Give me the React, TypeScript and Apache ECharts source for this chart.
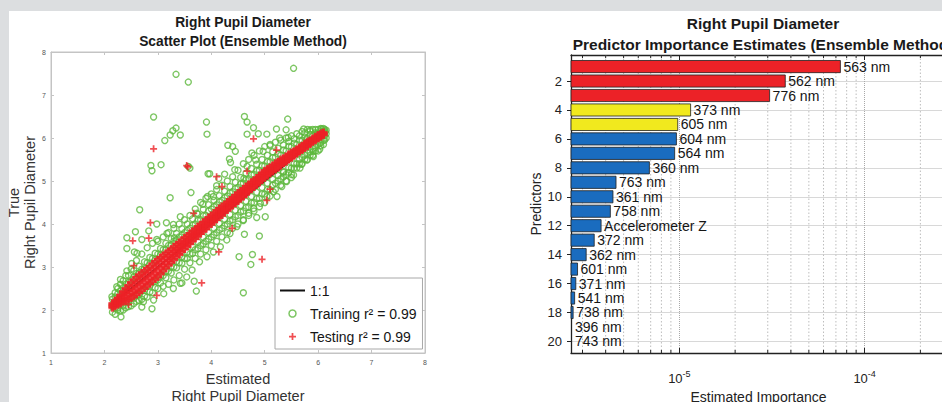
import React, { useEffect, useRef } from 'react';
import * as echarts from 'echarts';

const FONT = '"Liberation Sans", Arial, Helvetica, sans-serif';

// ---------- Left chart: scatter ----------
const scatterTitle = 'Right Pupil Diameter\nScatter Plot (Ensemble Method)';
const scatterXName = 'Estimated\nRight Pupil Diameter';
const scatterYName = 'True\nRight Pupil Diameter';
const legendNames = ['1:1', 'Training', 'Testing'];
const legendLabels = ['1:1', 'Training r² = 0.99', 'Testing r² = 0.99'];

const oneToOne = [
  [2.2, 2.2],
  [6.05, 6.05],
];

// Training cloud rows: [estimated, true values...]
const trainingBand = [
  [2.15, 1.95, 2.1, 2.25],
  [2.2, 1.9, 2.05, 2.3, 2.4],
  [2.25, 2.0, 2.05, 2.38, 2.5],
  [2.3, 1.98, 2.15, 2.45, 2.6],
  [2.35, 2.0, 2.1, 2.52, 2.68],
  [2.4, 2.05, 2.2, 2.6, 2.8],
  [2.45, 2.08, 2.18, 2.64, 2.8],
  [2.5, 2.1, 2.3, 2.7, 2.95],
  [2.55, 2.15, 2.28, 2.76, 2.92],
  [2.6, 2.2, 2.35, 2.85, 3.15],
  [2.65, 2.22, 2.36, 2.86, 3.02],
  [2.7, 2.25, 2.45, 2.95, 3.3],
  [2.75, 2.32, 2.46, 2.96, 3.12],
  [2.8, 2.3, 2.55, 3.1, 3.45],
  [2.85, 2.42, 2.56, 3.06, 3.22],
  [2.9, 2.4, 2.65, 3.2, 3.55],
  [2.95, 2.52, 2.67, 3.17, 3.32],
  [3.0, 2.5, 2.7, 3.3, 3.6],
  [3.05, 2.63, 2.78, 3.28, 3.43],
  [3.1, 2.55, 2.8, 3.4, 3.7],
  [3.15, 2.75, 2.9, 3.4, 3.55],
  [3.2, 2.6, 2.9, 3.5, 3.8],
  [3.25, 2.86, 3.01, 3.51, 3.66],
  [3.3, 2.7, 3.0, 3.6, 3.9],
  [3.35, 2.98, 3.13, 3.63, 3.78],
  [3.4, 2.8, 3.1, 3.7, 4.0],
  [3.45, 3.09, 3.24, 3.74, 3.89],
  [3.5, 2.95, 3.2, 3.8, 4.1],
  [3.55, 3.2, 3.35, 3.85, 4.0],
  [3.6, 3.1, 3.3, 3.9, 4.2],
  [3.65, 3.32, 3.47, 3.97, 4.12],
  [3.7, 3.2, 3.4, 4.0, 4.35],
  [3.75, 3.43, 3.58, 4.08, 4.23],
  [3.8, 3.3, 3.5, 4.1, 4.5],
  [3.85, 3.54, 3.69, 4.19, 4.34],
  [3.9, 3.4, 3.6, 4.2, 4.6],
  [3.95, 3.65, 3.8, 4.3, 4.45],
  [4.0, 3.5, 3.7, 4.35, 4.7],
  [4.05, 3.75, 3.9, 4.4, 4.55],
  [4.1, 3.6, 3.8, 4.45, 4.8],
  [4.15, 3.86, 4.01, 4.51, 4.66],
  [4.2, 3.7, 3.9, 4.55, 4.9],
  [4.25, 3.96, 4.11, 4.61, 4.76],
  [4.3, 3.8, 4.0, 4.65, 5.0],
  [4.35, 4.07, 4.22, 4.72, 4.87],
  [4.4, 3.9, 4.1, 4.75, 5.1],
  [4.45, 4.17, 4.32, 4.82, 4.97],
  [4.5, 4.0, 4.2, 4.85, 5.25],
  [4.55, 4.28, 4.43, 4.93, 5.08],
  [4.6, 4.1, 4.3, 4.95, 5.4],
  [4.65, 4.38, 4.53, 5.03, 5.18],
  [4.7, 4.2, 4.4, 5.05, 5.5],
  [4.75, 4.49, 4.64, 5.14, 5.29],
  [4.8, 4.3, 4.5, 5.15, 5.6],
  [4.85, 4.59, 4.74, 5.24, 5.39],
  [4.9, 4.4, 4.6, 5.25, 5.7],
  [4.95, 4.7, 4.85, 5.35, 5.5],
  [5.0, 4.5, 4.7, 5.35, 5.8],
  [5.05, 4.8, 4.95, 5.45, 5.6],
  [5.1, 4.65, 4.8, 5.45, 5.85],
  [5.15, 4.9, 5.04, 5.54, 5.68],
  [5.2, 4.8, 4.95, 5.55, 5.9],
  [5.25, 5.0, 5.13, 5.63, 5.76],
  [5.3, 4.9, 5.05, 5.6, 5.95],
  [5.35, 5.1, 5.22, 5.72, 5.84],
  [5.4, 5.0, 5.15, 5.7, 6.0],
  [5.45, 5.2, 5.31, 5.81, 5.92],
  [5.5, 5.15, 5.3, 5.8, 6.05],
  [5.55, 5.3, 5.4, 5.88, 5.98],
  [5.6, 5.3, 5.4, 5.85, 6.1],
  [5.65, 5.4, 5.5, 5.95, 6.05],
  [5.7, 5.4, 5.55, 5.95, 6.15],
  [5.75, 5.5, 5.6, 6.02, 6.12],
  [5.8, 5.5, 5.65, 6.0, 6.2],
  [5.85, 5.6, 5.68, 6.08, 6.16],
  [5.9, 5.6, 5.75, 6.05, 6.2],
  [5.95, 5.7, 5.78, 6.12, 6.2],
  [6.0, 5.7, 5.85, 6.1, 6.2],
  [6.05, 5.82, 5.9, 6.16, 6.22],
  [6.1, 5.85, 5.95, 6.15, 6.22],
  [6.12, 5.95, 6.05, 6.2],
  [6.15, 6.0, 6.1, 6.18],
];

const trainingOutliers = [
  [3.34, 7.48], [3.57, 7.3], [5.54, 7.62], [2.92, 6.49], [4.62, 6.5], [4.67, 6.37],
  [5.43, 6.44], [3.91, 6.37], [3.92, 6.09], [3.34, 6.23], [3.28, 6.17], [3.42, 6.07],
  [3.23, 6.07], [3.13, 5.94], [4.67, 6.09], [4.79, 6.24], [4.88, 6.1], [5.04, 6.09],
  [5.22, 6.21], [2.87, 5.36], [2.89, 5.24], [3.06, 5.38], [3.57, 5.34], [3.6, 5.3],
  [3.94, 5.17], [3.97, 5.17], [4.31, 5.83], [4.4, 5.8], [4.45, 5.69], [4.34, 5.51],
  [4.36, 5.43], [4.25, 5.16], [3.62, 4.73], [3.23, 4.61], [2.66, 4.33], [2.58, 3.82],
  [2.42, 3.68], [2.42, 3.43], [2.56, 3.35], [4.62, 3.76], [4.52, 3.24], [4.74, 3.06],
  [4.77, 3.29], [4.9, 3.72], [4.6, 2.4], [3.93, 4.64], [5.01, 4.17], [4.85, 4.15],
  [2.31, 1.84], [2.89, 2.03], [3.72, 2.44], [3.68, 2.67], [3.42, 2.62], [5.91, 5.57],
  [5.69, 5.39], [5.5, 5.08], [5.35, 5.2], [5.78, 5.96], [6.03, 5.74], [6.06, 6.21],
  [5.73, 6.21], [5.85, 6.19], [5.4, 6.19], [5.44, 6.01], [5.28, 6.0], [5.1, 5.82],
  [4.97, 5.69], [4.76, 5.65], [4.83, 5.49], [4.67, 5.34], [4.44, 5.26], [4.61, 5.06],
  [4.14, 5.06], [4.1, 4.89], [4.04, 4.64], [3.84, 4.46], [3.73, 4.25], [3.42, 4.17],
  [3.29, 3.99], [3.16, 4.03], [2.98, 4.0], [2.83, 3.84], [2.7, 3.64], [2.98, 3.64],
  [3.17, 3.78], [3.31, 3.68], [2.61, 3.32], [2.51, 3.08], [2.42, 2.91], [2.3, 2.71],
  [2.23, 2.54], [2.14, 2.31], [2.17, 2.11], [2.33, 2.19], [2.61, 2.34], [2.73, 2.19],
  [2.7, 2.07], [2.92, 2.23], [3.11, 2.38], [3.29, 2.5], [3.45, 2.63], [3.54, 2.77],
  [3.64, 2.93], [3.78, 3.12], [3.92, 3.24], [4.04, 3.35], [4.17, 3.47], [4.29, 3.63],
  [4.35, 3.78], [4.48, 3.94], [4.6, 4.08], [4.7, 4.25], [4.79, 4.36], [4.92, 4.48],
  [5.04, 4.64], [5.16, 4.75], [5.23, 4.64], [5.32, 4.87], [5.41, 4.99], [5.54, 5.14],
  [5.66, 5.3], [5.79, 5.49], [5.91, 5.69], [6.04, 5.88], [6.07, 6.07], [6.13, 6.15],
  [5.98, 6.11],
];

// Testing band rows: [estimated, true values across the band]
const testingBand = [
  [2.15, 2.05, 2.08, 2.12, 2.15], [2.2, 2.09, 2.13, 2.17, 2.21], [2.25, 2.12, 2.17, 2.23, 2.28],
  [2.3, 2.15, 2.22, 2.28, 2.35], [2.35, 2.19, 2.27, 2.35, 2.43], [2.4, 2.22, 2.31, 2.41, 2.5],
  [2.45, 2.25, 2.36, 2.46, 2.57], [2.5, 2.28, 2.4, 2.52, 2.64], [2.55, 2.32, 2.45, 2.57, 2.7],
  [2.6, 2.36, 2.49, 2.63, 2.76], [2.65, 2.41, 2.54, 2.68, 2.81], [2.7, 2.46, 2.59, 2.73, 2.86],
  [2.75, 2.51, 2.64, 2.78, 2.91], [2.8, 2.56, 2.69, 2.83, 2.96], [2.85, 2.61, 2.74, 2.88, 3.01],
  [2.9, 2.67, 2.8, 2.94, 3.07], [2.95, 2.72, 2.85, 2.99, 3.12], [3.0, 2.77, 2.9, 3.04, 3.17],
  [3.05, 2.84, 2.97, 3.09, 3.22], [3.1, 2.91, 3.03, 3.15, 3.27], [3.15, 2.98, 3.09, 3.21, 3.32],
  [3.2, 3.04, 3.15, 3.25, 3.36], [3.25, 3.11, 3.21, 3.31, 3.41], [3.3, 3.17, 3.27, 3.37, 3.47],
  [3.35, 3.24, 3.33, 3.43, 3.52], [3.4, 3.29, 3.38, 3.48, 3.57], [3.45, 3.36, 3.45, 3.53, 3.62],
  [3.5, 3.42, 3.51, 3.59, 3.68], [3.55, 3.48, 3.56, 3.64, 3.72], [3.6, 3.54, 3.62, 3.7, 3.78],
  [3.65, 3.61, 3.68, 3.76, 3.83], [3.7, 3.66, 3.73, 3.81, 3.88], [3.75, 3.72, 3.79, 3.87, 3.94],
  [3.8, 3.78, 3.85, 3.91, 3.98], [3.85, 3.84, 3.91, 3.97, 4.04], [3.9, 3.89, 3.96, 4.02, 4.09],
  [3.95, 3.95, 4.02, 4.08, 4.15], [4.0, 4.0, 4.07, 4.13, 4.2], [4.05, 4.05, 4.12, 4.18, 4.25],
  [4.1, 4.11, 4.18, 4.24, 4.31], [4.15, 4.16, 4.23, 4.29, 4.36], [4.2, 4.21, 4.28, 4.34, 4.41],
  [4.25, 4.27, 4.33, 4.39, 4.45], [4.3, 4.33, 4.39, 4.45, 4.51], [4.35, 4.38, 4.44, 4.5, 4.56],
  [4.4, 4.43, 4.49, 4.55, 4.61], [4.45, 4.48, 4.54, 4.6, 4.66], [4.5, 4.54, 4.6, 4.66, 4.72],
  [4.55, 4.59, 4.65, 4.71, 4.77], [4.6, 4.64, 4.7, 4.76, 4.82], [4.65, 4.69, 4.75, 4.81, 4.87],
  [4.7, 4.76, 4.81, 4.87, 4.92], [4.75, 4.81, 4.86, 4.92, 4.97], [4.8, 4.86, 4.91, 4.97, 5.02],
  [4.85, 4.91, 4.96, 5.02, 5.07], [4.9, 4.97, 5.02, 5.08, 5.13], [4.95, 5.02, 5.07, 5.13, 5.18],
  [5.0, 5.08, 5.13, 5.19, 5.24], [5.05, 5.12, 5.17, 5.23, 5.28], [5.1, 5.18, 5.23, 5.27, 5.32],
  [5.15, 5.22, 5.27, 5.31, 5.36], [5.2, 5.27, 5.32, 5.36, 5.41], [5.25, 5.31, 5.36, 5.4, 5.45],
  [5.3, 5.36, 5.41, 5.45, 5.5], [5.35, 5.41, 5.45, 5.49, 5.53], [5.4, 5.45, 5.49, 5.53, 5.57],
  [5.45, 5.5, 5.54, 5.58, 5.62], [5.5, 5.54, 5.58, 5.62, 5.66], [5.55, 5.59, 5.62, 5.66, 5.69],
  [5.6, 5.64, 5.67, 5.71, 5.74], [5.65, 5.68, 5.71, 5.75, 5.78], [5.7, 5.72, 5.75, 5.79, 5.82],
  [5.75, 5.77, 5.8, 5.84, 5.87], [5.8, 5.81, 5.84, 5.88, 5.91], [5.85, 5.86, 5.89, 5.91, 5.94],
  [5.9, 5.91, 5.94, 5.96, 5.99], [5.95, 5.95, 5.98, 6.0, 6.03], [6.0, 5.99, 6.02, 6.04, 6.07],
  [6.05, 6.03, 6.06, 6.08, 6.11], [6.1, 6.07, 6.09, 6.11, 6.13],
];

const testingOutliers = [
  [2.92, 5.75], [3.54, 5.36], [3.56, 5.33], [4.79, 5.98], [2.86, 4.03], [2.83, 3.67],
  [2.53, 3.61], [2.55, 3.03], [4.14, 3.35], [4.95, 3.18], [3.82, 2.63], [2.45, 2.13],
  [2.98, 2.34], [4.1, 5.1], [4.2, 4.87], [4.39, 3.9], [3.67, 4.25], [5.1, 4.81],
  [5.04, 4.55], [5.22, 5.72], [4.67, 5.23],
];

// ---------- Right chart: predictor importance ----------
const barTitle = 'Right Pupil Diameter\nPredictor Importance Estimates (Ensemble Method)';
const barXName = 'Estimated Importance';
const barYName = 'Predictors';
const predictorLabels = [
  '563 nm', '562 nm', '776 nm', '373 nm', '605 nm', '604 nm', '564 nm', '360 nm',
  '763 nm', '361 nm', '758 nm', 'Accelerometer Z', '372 nm', '362 nm', '601 nm',
  '371 nm', '541 nm', '738 nm', '396 nm', '743 nm',
];
const importance = [
  7.4e-5, 3.73e-5, 3.07e-5, 1.15e-5, 9.8e-6, 9.64e-6, 9.43e-6, 6.89e-6, 4.55e-6,
  4.38e-6, 4.24e-6, 3.78e-6, 3.47e-6, 3.14e-6, 2.82e-6, 2.76e-6, 2.72e-6, 2.67e-6,
  2.55e-6, 2.55e-6,
];
const importanceGroup = [
  'high', 'high', 'high', 'mid', 'mid', 'low', 'low', 'low', 'low', 'low',
  'low', 'low', 'low', 'low', 'low', 'low', 'low', 'low', 'low', 'low',
];
const minorGridValues = [
  3e-6, 4e-6, 5e-6, 6e-6, 7e-6, 8e-6, 9e-6,
  2e-5, 3e-5, 4e-5, 5e-5, 6e-5, 7e-5, 8e-5, 9e-5, 2e-4,
];

const X_MIN = 2.6e-6;
const X_MAX = 2.75e-4;
const Y_MIN = 0.2;
const Y_MAX = 20.8;
const BAR_HALF = 0.42;
const GROUP_COLORS: Record<string, string> = { high: '#ec2227', mid: '#f1e91e', low: '#1a6cbf' };
const GREEN = '#5cb83c';
const RED = '#ec2227';
const PLUS = 'path://M3.75 0h2.5v3.75H10v2.5H6.25V10h-2.5V6.25H0v-2.5h3.75z';
const PLUS_BOLD = 'path://M3.1 0h3.8v3.1H10v3.8H6.9V10H3.1V6.9H0V3.1h3.1z';

function flattenRows(rows: number[][]): number[][] {
  const out: number[][] = [];
  rows.forEach((r) => {
    for (let k = 1; k < r.length; k++) out.push([r[0], r[k]]);
  });
  return out;
}

export default function App() {
  const ref = useRef<HTMLDivElement>(null);

  useEffect(() => {
    if (!ref.current) return;
    const chart = echarts.init(ref.current, undefined, { renderer: 'svg' });

    const trainingData = flattenRows(trainingBand).concat(trainingOutliers);
    const testingData: any[] = flattenRows(testingBand)
      .map((p) => ({ value: p, symbol: PLUS_BOLD, symbolSize: 8 }))
      .concat(testingOutliers.map((p) => ({ value: p })) as any[]);

    const leftAxisCommon = {
      min: 1,
      max: 8,
      interval: 1,
      axisLine: { show: true, lineStyle: { color: '#c4c4c4', width: 1 } },
      axisTick: { show: true, inside: true, length: 3, lineStyle: { color: '#c4c4c4' } },
      splitLine: { show: false },
    };

    const logFormatter = (v: number) => {
      const l = Math.log10(v);
      const e = Math.round(l);
      if (Math.abs(l - e) > 0.01) return '';
      return '{b|10}{s|' + e + '}';
    };

    const option: any = {
      animation: false,
      backgroundColor: '#dcdee0',
      graphic: [
        {
          type: 'rect',
          z: -10,
          shape: { x: 9, y: 11, width: 940, height: 400 },
          style: { fill: '#ffffff' },
          silent: true,
        },
      ],
      title: [
        {
          text: scatterTitle,
          left: 238,
          top: 8,
          textAlign: 'center',
          textStyle: { fontFamily: FONT, fontSize: 13.8, fontWeight: 'bold', lineHeight: 19, color: '#1a1a1a' },
        },
        {
          text: barTitle,
          left: 758,
          top: 8,
          textAlign: 'center',
          textStyle: { fontFamily: FONT, fontSize: 15.5, fontWeight: 'bold', lineHeight: 21, color: '#1a1a1a' },
        },
      ],
      legend: {
        data: [
          {
            name: legendNames[0],
            itemStyle: { color: 'rgba(0,0,0,0)', borderColor: 'rgba(0,0,0,0)', borderWidth: 0 },
            lineStyle: { color: '#111', width: 2 },
          },
          {
            name: legendNames[1],
            icon: 'circle',
            itemStyle: { color: 'rgba(0,0,0,0)', borderColor: GREEN, borderWidth: 1.5 },
          },
          { name: legendNames[2], icon: PLUS, itemStyle: { color: RED } },
        ],
        formatter: (name: string) => legendLabels[legendNames.indexOf(name)],
        orient: 'vertical',
        left: 275,
        top: 278,
        itemWidth: 25,
        itemHeight: 7,
        itemGap: 8,
        padding: [5, 6, 5, 4],
        backgroundColor: '#ffffff',
        borderColor: '#a8a8a8',
        borderWidth: 1,
        borderRadius: 0,
        selectedMode: false,
        textStyle: { fontFamily: FONT, fontSize: 14, color: '#151515', lineHeight: 15 },
      },
      grid: [
        {
          left: 51, top: 52, width: 374, height: 301, show: true,
          borderColor: '#c4c4c4', borderWidth: 1, backgroundColor: '#fff',
          outerBoundsMode: 'none', containLabel: false,
        },
        {
          left: 571, top: 55, width: 375, height: 298, show: false,
          outerBoundsMode: 'none', containLabel: false,
        },
      ],
      xAxis: [
        {
          ...leftAxisCommon,
          type: 'value',
          gridIndex: 0,
          position: 'bottom',
          name: scatterXName,
          nameLocation: 'middle',
          nameGap: 17,
          nameTextStyle: { fontFamily: FONT, fontSize: 14.5, lineHeight: 17, color: '#333' },
          axisLabel: { fontFamily: FONT, fontSize: 7, color: '#555', margin: 6 },
        },
        {
          ...leftAxisCommon,
          type: 'value',
          gridIndex: 0,
          position: 'top',
          axisLabel: { show: false },
        },
        {
          type: 'log',
          gridIndex: 1,
          position: 'bottom',
          min: X_MIN,
          max: X_MAX,
          logBase: 10,
          name: barXName,
          nameLocation: 'middle',
          nameGap: 36,
          nameTextStyle: { fontFamily: FONT, fontSize: 14, lineHeight: 16, color: '#222' },
          axisLine: { show: true, lineStyle: { color: '#222', width: 1.3 } },
          axisTick: { show: true, inside: true, length: 5, lineStyle: { color: '#222' } },
          axisLabel: {
            formatter: logFormatter,
            showMinLabel: false,
            showMaxLabel: false,
            margin: 16,
            color: '#222',
            rich: {
              b: { fontFamily: FONT, fontSize: 13, lineHeight: 18, color: '#222' },
              s: { fontFamily: FONT, fontSize: 9, lineHeight: 9, verticalAlign: 'top', color: '#222' },
            },
          },
          splitLine: { show: true, lineStyle: { color: '#a8a8a8', type: 'dotted', width: 1 } },
        },
        {
          type: 'log',
          gridIndex: 1,
          position: 'top',
          min: X_MIN,
          max: X_MAX,
          logBase: 10,
          axisLine: { show: true, lineStyle: { color: '#222', width: 1.3 } },
          axisTick: { show: true, inside: true, length: 5, lineStyle: { color: '#222' } },
          axisLabel: { show: false },
          splitLine: { show: false },
        },
      ],
      yAxis: [
        {
          ...leftAxisCommon,
          type: 'value',
          gridIndex: 0,
          position: 'left',
          name: scatterYName,
          nameLocation: 'middle',
          nameGap: 12,
          nameRotate: 90,
          nameTextStyle: { fontFamily: FONT, fontSize: 14.5, lineHeight: 16, color: '#333' },
          axisLabel: { fontFamily: FONT, fontSize: 7, color: '#555', margin: 5 },
        },
        {
          ...leftAxisCommon,
          type: 'value',
          gridIndex: 0,
          position: 'right',
          axisLabel: { show: false },
        },
        {
          type: 'value',
          gridIndex: 1,
          position: 'left',
          inverse: true,
          min: Y_MIN,
          max: Y_MAX,
          splitNumber: 10,
          name: barYName,
          nameLocation: 'middle',
          nameGap: 26,
          nameRotate: 90,
          nameTextStyle: { fontFamily: FONT, fontSize: 14, lineHeight: 16, color: '#222' },
          axisLine: { show: true, lineStyle: { color: '#222', width: 1.3 } },
          axisTick: { show: true, inside: false, length: 4, lineStyle: { color: '#222' } },
          axisLabel: {
            fontFamily: FONT,
            fontSize: 13,
            color: '#222',
            margin: 9,
            showMinLabel: false,
            showMaxLabel: false,
            formatter: (v: number) => (Number.isInteger(v) ? String(v) : ''),
          },
          splitLine: { show: true, lineStyle: { color: '#d8d8d8', width: 1 } },
        },
      ],
      series: [
        {
          name: legendNames[0],
          type: 'line',
          xAxisIndex: 0,
          yAxisIndex: 0,
          data: oneToOne,
          symbol: 'none',
          lineStyle: { color: '#111', width: 2 },
          itemStyle: { color: '#111' },
          z: 1,
        },
        {
          name: legendNames[1],
          type: 'scatter',
          xAxisIndex: 0,
          yAxisIndex: 0,
          data: trainingData,
          symbol: 'circle',
          symbolSize: 6,
          itemStyle: { color: 'rgba(0,0,0,0)', borderColor: GREEN, borderWidth: 1.4 },
          z: 2,
        },
        {
          name: legendNames[2],
          type: 'scatter',
          xAxisIndex: 0,
          yAxisIndex: 0,
          data: testingData,
          symbol: PLUS,
          symbolSize: 7,
          itemStyle: { color: RED },
          z: 3,
        },
        {
          type: 'custom',
          xAxisIndex: 2,
          yAxisIndex: 2,
          z: 1,
          silent: true,
          clip: false,
          data: minorGridValues.map((v) => [v, 10]),
          encode: { x: 0, y: 1 },
          renderItem: (params: any, api: any) => {
            const v = api.value(0);
            const a = api.coord([v, Y_MIN]);
            const b = api.coord([v, Y_MAX]);
            const tickStyle = { stroke: '#222', lineWidth: 1 };
            return {
              type: 'group',
              children: [
                {
                  type: 'line',
                  shape: { x1: a[0], y1: a[1], x2: b[0], y2: b[1] },
                  style: { stroke: '#bdbdbd', lineWidth: 1, lineDash: [1.5, 2] },
                },
                {
                  type: 'line',
                  shape: { x1: b[0], y1: b[1], x2: b[0], y2: b[1] - 3 },
                  style: tickStyle,
                },
                {
                  type: 'line',
                  shape: { x1: a[0], y1: a[1], x2: a[0], y2: a[1] + 3 },
                  style: tickStyle,
                },
              ],
            };
          },
        },
        {
          type: 'custom',
          xAxisIndex: 2,
          yAxisIndex: 2,
          z: 4,
          data: importance.map((v, i) => [v, i + 1, i]),
          encode: { x: 0, y: 1 },
          renderItem: (params: any, api: any) => {
            const v = api.value(0);
            const row = api.value(1);
            const i = api.value(2);
            const start = api.coord([X_MIN, row]);
            const end = api.coord([Math.max(v, X_MIN), row]);
            const yA = api.coord([X_MIN, row - BAR_HALF])[1];
            const yB = api.coord([X_MIN, row + BAR_HALF])[1];
            const y0 = Math.min(yA, yB);
            const h = Math.abs(yB - yA);
            const w = end[0] - start[0];
            const children: any[] = [];
            if (w > 0.5) {
              children.push({
                type: 'rect',
                shape: { x: start[0], y: y0, width: w, height: h },
                style: { fill: GROUP_COLORS[importanceGroup[i]], stroke: '#202020', lineWidth: 0.8 },
              });
            }
            children.push({
              type: 'text',
              x: end[0] + (w > 0.5 ? 3 : 4),
              y: start[1],
              style: {
                text: predictorLabels[i],
                fill: '#151515',
                fontFamily: FONT,
                fontSize: 14,
                align: 'left',
                verticalAlign: 'middle',
              },
            });
            return { type: 'group', children };
          },
        },
      ],
    };

    chart.setOption(option);
    return () => chart.dispose();
  }, []);

  return (
    <div
      ref={ref}
      style={{ position: 'fixed', left: 0, top: 0, width: 942, height: 402 }}
    />
  );
}
